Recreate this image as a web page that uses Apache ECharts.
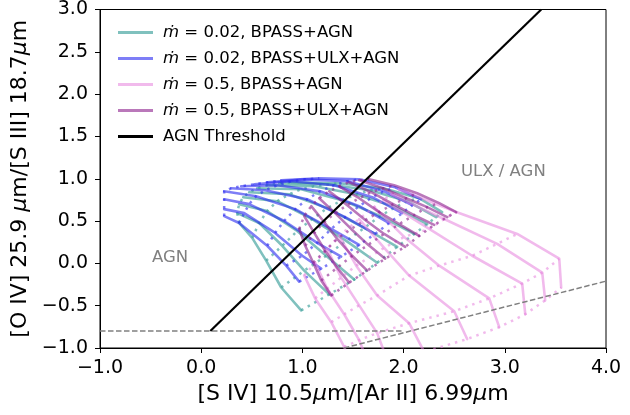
<!DOCTYPE html>
<html><head><meta charset="utf-8">
<script src="https://cdn.jsdelivr.net/npm/echarts/dist/echarts.min.js"></script>
<style>html,body{margin:0;padding:0;background:#fff}#c{width:630px;height:415px}</style>
</head><body><div id="c"></div>
<script>
// m=0.02, BPASS+AGN  (each line: points along the model track)
const tealLines = [
  [[0.375,0.477],[0.504,0.301],[0.642,0.032],[0.791,-0.285],[0.988,-0.555]],
  [[0.356,0.594],[0.573,0.477],[0.801,0.208],[1.018,-0.086],[1.265,-0.367]],
  [[0.375,0.700],[0.652,0.618],[0.949,0.383],[1.235,0.090],[1.512,-0.191]],
  [[0.415,0.782],[0.751,0.735],[1.097,0.524],[1.433,0.266],[1.739,0.008]],
  [[0.474,0.841],[0.870,0.817],[1.245,0.653],[1.611,0.419],[1.937,0.196]],
  [[0.553,0.887],[0.988,0.876],[1.393,0.747],[1.769,0.559],[2.105,0.348]],
  [[0.652,0.923],[1.117,0.911],[1.532,0.817],[1.917,0.665],[2.233,0.465]],
  [[0.771,0.946],[1.245,0.934],[1.670,0.864],[2.036,0.735],[2.322,0.547]],
  [[0.889,0.958],[1.364,0.946],[1.798,0.887],[2.154,0.770],[2.381,0.606]]
];
// m=0.02, BPASS+ULX+AGN
const blueLines = [
  [[0.227,0.559],[0.375,0.477],[0.652,0.208],[0.840,-0.027],[0.968,-0.215]],
  [[0.227,0.641],[0.425,0.594],[0.731,0.360],[0.998,0.090],[1.186,-0.062]],
  [[0.227,0.758],[0.474,0.700],[0.820,0.501],[1.146,0.243],[1.383,0.079]],
  [[0.227,0.852],[0.543,0.794],[0.929,0.641],[1.285,0.407],[1.561,0.219]],
  [[0.296,0.887],[0.632,0.864],[1.047,0.758],[1.423,0.547],[1.719,0.348]],
  [[0.395,0.911],[0.751,0.923],[1.176,0.852],[1.561,0.676],[1.858,0.477]],
  [[0.524,0.934],[0.889,0.970],[1.314,0.923],[1.690,0.782],[1.986,0.594]],
  [[0.652,0.958],[1.028,0.993],[1.443,0.970],[1.808,0.852],[2.085,0.688]],
  [[0.791,0.981],[1.166,1.005],[1.561,0.993],[1.917,0.899],[2.174,0.758]]
];
// m=0.5, BPASS+AGN
const pinkLines = [
  [[1.018,-0.144],[1.126,-0.414],[1.285,-0.695],[1.413,-0.988],[1.512,-1.281]],
  [[1.126,0.008],[1.245,-0.297],[1.413,-0.601],[1.561,-0.906],[1.660,-1.211]],
  [[1.245,0.172],[1.383,-0.168],[1.561,-0.496],[1.739,-0.824],[1.838,-1.141]],
  [[1.364,0.325],[1.532,-0.027],[1.739,-0.379],[2.055,-0.707],[2.204,-1.047]],
  [[1.561,0.524],[1.808,0.184],[2.055,-0.144],[2.500,-0.566],[2.628,-0.894]],
  [[1.709,0.665],[2.006,0.313],[2.352,-0.027],[2.846,-0.414],[2.945,-0.754]],
  [[1.798,0.747],[2.253,0.407],[2.678,0.090],[3.172,-0.238],[3.202,-0.601]],
  [[1.877,0.817],[2.401,0.524],[2.925,0.231],[3.370,-0.109],[3.399,-0.437]],
  [[1.957,0.876],[2.520,0.606],[3.123,0.348],[3.538,0.055],[3.557,-0.285]]
];
// m=0.5, BPASS+ULX+AGN
const purpleLines = [
  [[0.968,0.407],[1.028,0.208],[1.107,0.008],[1.186,-0.203],[1.285,-0.379]],
  [[1.018,0.559],[1.117,0.360],[1.225,0.149],[1.344,-0.051],[1.462,-0.227]],
  [[1.087,0.676],[1.215,0.489],[1.344,0.290],[1.492,0.090],[1.640,-0.086]],
  [[1.166,0.770],[1.324,0.594],[1.482,0.407],[1.650,0.219],[1.818,0.055]],
  [[1.265,0.852],[1.443,0.688],[1.621,0.512],[1.808,0.348],[2.016,0.196]],
  [[1.364,0.911],[1.561,0.770],[1.759,0.606],[1.957,0.465],[2.154,0.325]],
  [[1.462,0.958],[1.680,0.841],[1.897,0.700],[2.105,0.571],[2.302,0.454]],
  [[1.561,0.981],[1.798,0.887],[2.026,0.770],[2.233,0.665],[2.431,0.547]],
  [[1.660,0.993],[1.907,0.923],[2.134,0.829],[2.352,0.712],[2.520,0.606]]
];
const agnThreshold = [[0.09,-0.8],[3.36,3.0]];
const demarcFlat = [[-1.0,-0.8],[2.0,-0.8]];
const demarcSlope = [[1.41,-1.0],[4.0,-0.21]];
const xTicks = [-1,0,1,2,3,4];
const yTicks = [-1,-0.5,0,0.5,1,1.5,2,2.5,3];
const legendNames = ['m1','m2','m3','m4','AGN Threshold'];
const legendTexts = {
  m1:'{i|ṁ} = 0.02, BPASS+AGN',
  m2:'{i|ṁ} = 0.02, BPASS+ULX+AGN',
  m3:'{i|ṁ} = 0.5, BPASS+AGN',
  m4:'{i|ṁ} = 0.5, BPASS+ULX+AGN',
  'AGN Threshold':'AGN Threshold'
};

const FONT = 'DejaVu Sans';
function fmt(v){ return v.toFixed(1).replace('-', '\u2212'); }

function family(lines, name, color){
  const out = [];
  lines.forEach(l => out.push({
    type:'line', name, data:l, showSymbol:false, silent:true, animation:false,
    lineStyle:{color, width:2.6, cap:'round', join:'round'}, itemStyle:{color}
  }));
  const K = lines[0].length;
  for (let k = 0; k < K; k++) {
    out.push({
      type:'line', name, data:lines.map(l => l[k]), showSymbol:false, silent:true, animation:false,
      lineStyle:{color, width:2.5, type:[2.5,5], cap:'butt'}, itemStyle:{color}
    });
  }
  return out;
}

const cTeal = 'rgba(60,160,155,0.65)';
const cBlue = 'rgba(40,40,240,0.6)';
const cPink = 'rgba(230,130,220,0.55)';
const cPurple = 'rgba(140,30,140,0.6)';

const series = [].concat(
  family(tealLines, 'm1', cTeal),
  family(blueLines, 'm2', cBlue),
  family(pinkLines, 'm3', cPink),
  family(purpleLines, 'm4', cPurple),
  [
    {type:'line', name:'flat', data:demarcFlat, showSymbol:false, silent:true, animation:false,
     lineStyle:{color:'#808080', width:1.5, type:[5.5,2.5]}, itemStyle:{color:'#808080'}},
    {type:'line', name:'slope', data:demarcSlope, showSymbol:false, silent:true, animation:false,
     lineStyle:{color:'#808080', width:1.5, type:[5.5,2.5]}, itemStyle:{color:'#808080'}},
    {type:'line', name:'AGN Threshold', data:agnThreshold, showSymbol:false, silent:true, animation:false, z:5,
     lineStyle:{color:'#000', width:2.2}, itemStyle:{color:'#000'}}
  ]
);

const chart = echarts.init(document.getElementById('c'), null, {renderer:'canvas'});
chart.setOption({
  animation:false,
  textStyle:{fontFamily:FONT},
  grid:{left:100, right:24, top:7, bottom:67, show:true, borderColor:'#000', borderWidth:1},
  xAxis:{
    type:'value', min:xTicks[0], max:xTicks[xTicks.length-1], interval:1,
    axisLine:{show:true, onZero:false, lineStyle:{color:'#000', width:1}},
    axisTick:{show:true, length:5, lineStyle:{color:'#000', width:1}},
    axisLabel:{formatter:fmt, fontSize:19, color:'#000', margin:11, fontFamily:FONT},
    splitLine:{show:false},
    name:'[S IV] 10.5{i|μ}m/[Ar II] 6.99{i|μ}m', nameLocation:'middle', nameGap:35,
    nameTextStyle:{fontSize:22, color:'#000', fontFamily:FONT, rich:{i:{fontSize:22, fontStyle:'italic', fontFamily:FONT, color:'#000'}}}
  },
  yAxis:{
    type:'value', min:yTicks[0], max:yTicks[yTicks.length-1], interval:0.5,
    axisLine:{show:true, onZero:false, lineStyle:{color:'#000', width:1}},
    axisTick:{show:true, length:5, lineStyle:{color:'#000', width:1}},
    axisLabel:{formatter:fmt, fontSize:19, color:'#000', margin:12, fontFamily:FONT},
    splitLine:{show:false},
    name:'[O IV] 25.9 {i|μ}m/[S III] 18.7{i|μ}m', nameLocation:'middle', nameGap:67,
    nameTextStyle:{fontSize:22, color:'#000', fontFamily:FONT, rich:{i:{fontSize:22, fontStyle:'italic', fontFamily:FONT, color:'#000'}}}
  },
  legend:{
    show:true, orient:'vertical', left:113, top:19, itemWidth:35, itemHeight:3, itemGap:9,
    data:legendNames.map(n => ({name:n, icon:'rect'})),
    formatter:n => legendTexts[n],
    selectedMode:false,
    textStyle:{fontSize:16.5, color:'#000', fontFamily:FONT, lineHeight:16, padding:[0,0,0,5],
      rich:{i:{fontSize:16.5, lineHeight:16, fontStyle:'italic', fontFamily:FONT, color:'#000'}}}
  },
  graphic:[
    {type:'text', left:152, top:249, silent:true, style:{text:'AGN', fill:'#808080', font:'16.5px "DejaVu Sans"'}},
    {type:'text', left:461, top:163, silent:true, style:{text:'ULX / AGN', fill:'#808080', font:'16.5px "DejaVu Sans"'}}
  ],
  series
});
</script>
</body></html>
